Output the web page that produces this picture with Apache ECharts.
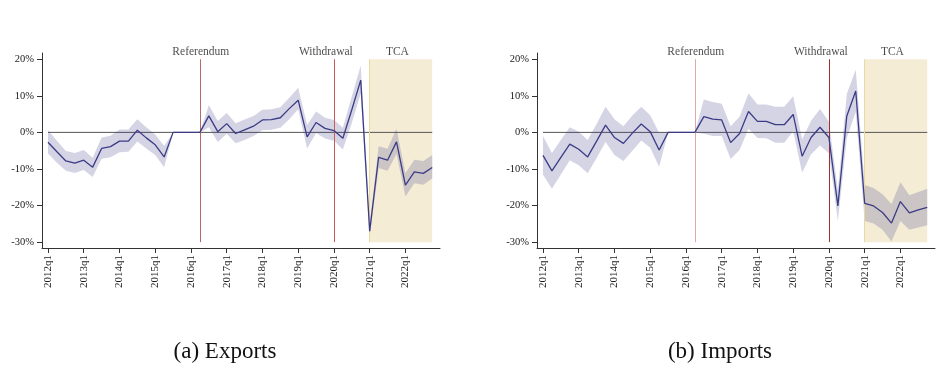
<!DOCTYPE html>
<html>
<head>
<meta charset="utf-8">
<script src="https://cdn.jsdelivr.net/npm/echarts@6/dist/echarts.min.js"></script>
<style>
  html, body { margin: 0; padding: 0; background: #fff; }
  #chart { width: 940px; height: 375px; }
</style>
</head>
<body>
<div id="chart"></div>
<script>
// quarters 2012q1 .. 2022q4 (index 0..43)
const quarters = [
  '2012q1','2012q2','2012q3','2012q4','2013q1','2013q2','2013q3','2013q4',
  '2014q1','2014q2','2014q3','2014q4','2015q1','2015q2','2015q3','2015q4',
  '2016q1','2016q2','2016q3','2016q4','2017q1','2017q2','2017q3','2017q4',
  '2018q1','2018q2','2018q3','2018q4','2019q1','2019q2','2019q3','2019q4',
  '2020q1','2020q2','2020q3','2020q4','2021q1','2021q2','2021q3','2021q4',
  '2022q1','2022q2','2022q3','2022q4'
];
const xTicks = ['2012q1','2013q1','2014q1','2015q1','2016q1','2017q1','2018q1','2019q1','2020q1','2021q1','2022q1'];
const yTicks = [-30, -20, -10, 0, 10, 20];

// exports (percent)
const exportsEst = [-2.7, -5.3, -7.8, -8.4, -7.6, -9.5, -4.4, -3.9, -2.4, -2.4, 0.6, -1.5, -3.4, -6.7, 0, 0,
  0, 0, 4.5, 0.2, 2.4, -0.3, 0.7, 1.7, 3.4, 3.5, 4.0, 6.5, 8.8, -1.2, 2.7, 1.1,
  0.5, -1.6, 6.2, 14.3, -27, -6.8, -7.6, -2.6, -14.4, -10.8, -11.2, -9.6];
const exportsHi = [0.6, -2.3, -5.1, -5.6, -4.8, -6.9, -1.4, -0.9, 0.8, 0.8, 3.6, 1.4, -0.6, -3.7, 0, 0,
  0, 0, 7.5, 3.1, 5.3, 2.5, 3.5, 4.5, 6.2, 6.3, 6.9, 9.5, 12.2, 2.0, 5.7, 4.0,
  3.4, 1.3, 9.8, 18.3, -25.3, -3.8, -4.5, 1.0, -11.2, -7.5, -7.8, -6.2];
const exportsLo = [-5.8, -8.3, -10.5, -11.1, -10.3, -12.2, -7.2, -6.8, -5.4, -5.3, -2.5, -4.4, -6.2, -9.5, 0, 0,
  0, 0, 1.4, -2.6, -0.4, -3.0, -2.1, -1.0, 0.6, 0.7, 1.3, 3.6, 6.3, -4.4, -0.2, -1.7,
  -2.3, -4.7, 2.6, 10.6, -28.5, -9.7, -10.5, -5.9, -17.5, -13.9, -14.3, -12.6];

// imports (percent)
const importsEst = [-6.3, -10.5, -6.8, -3.2, -4.6, -6.7, -2.4, 2.0, -1.4, -3.0, -0.2, 2.3, 0.2, -4.8, 0, 0,
  0, 0, 4.3, 3.6, 3.4, -2.8, -0.3, 5.7, 3.0, 3.0, 2.1, 2.1, 4.9, -6.5, -1.4, 1.4,
  -1.4, -20.1, 4.5, 11.3, -19.4, -20.1, -21.9, -24.8, -18.9, -22.0, -21.2, -20.5];
const importsHi = [-1.0, -5.6, -2.1, 1.4, 0.2, -2.1, 2.3, 7.0, 3.6, 1.7, 4.6, 7.0, 4.7, -0.1, 0, 0,
  0, 0, 9.0, 8.3, 7.8, 1.7, 4.3, 10.7, 7.6, 7.6, 7.0, 7.0, 9.9, -1.9, 3.2, 6.4,
  2.9, -15.8, 10.5, 17.2, -14.4, -15.2, -16.9, -19.6, -13.6, -17.2, -16.3, -15.4];
const importsLo = [-11.6, -15.4, -11.5, -7.6, -9.0, -11.2, -7.0, -2.6, -6.2, -7.8, -5.0, -2.2, -4.2, -9.4, 0, 0,
  0, 0, -0.4, -1.0, -1.0, -7.3, -4.8, 1.0, -1.5, -1.6, -2.8, -2.8, 0.4, -11.0, -6.0, -3.6,
  -5.7, -24.2, -1.5, 5.6, -24.2, -24.9, -26.6, -29.8, -24.2, -26.6, -26.0, -25.4];

const eventNames = ['Referendum', 'Withdrawal', 'TCA'];
const eventQuarters = ['2016q2', '2020q1', '2021q1'];
const eventLabelAt = [17.1, 31.1, 39.1];
const captions = ['(a) Exports', '(b) Imports'];

const FONT = 'Liberation Serif';
const idx = q => quarters.indexOf(q);
const last = quarters.length - 1;

function axes(i) {
  const x = {
    type: 'value', gridIndex: i, min: -0.67, max: 43.87,
    axisLine: { onZero: false, lineStyle: { color: '#333', width: 1 } },
    axisTick: { length: 5, lineStyle: { color: '#333' }, customValues: xTicks.map(idx) },
    axisLabel: {
      customValues: xTicks.map(idx), rotate: 90, margin: 7, overflow: 'none',
      fontFamily: FONT, fontSize: 11, color: '#1a1a1a',
      formatter: v => quarters[Math.round(v)]
    },
    splitLine: { show: false }
  };
  const y = {
    type: 'value', gridIndex: i, min: -31.6, max: 21.7,
    axisLine: { show: true, onZero: false, lineStyle: { color: '#333', width: 1 } },
    axisTick: { show: true, length: 5, lineStyle: { color: '#333' }, customValues: yTicks },
    axisLabel: {
      customValues: yTicks, margin: 8,
      fontFamily: FONT, fontSize: 10.5, color: '#1a1a1a',
      formatter: v => v + '%'
    },
    splitLine: { show: false }
  };
  return [x, y];
}

function panel(i, est, lo, hi, refColor, wdColor) {
  const pts = arr => arr.map((v, k) => [k, v]);
  return [
    {
      // zero reference line, also hosts the TCA shade and event lines
      type: 'line', xAxisIndex: i, yAxisIndex: i, silent: true, z: 1,
      data: [[0, 0], [last, 0]], symbol: 'none',
      lineStyle: { color: '#555', width: 1 },
      markArea: {
        silent: true,
        itemStyle: { color: '#f5ecd6' },
        data: [[{ coord: [idx(eventQuarters[2]), 20] }, { coord: [last, -30] }]]
      },
      markLine: {
        silent: true, symbol: 'none', label: { show: false },
        data: [
          [{ coord: [idx(eventQuarters[0]), 20], lineStyle: { color: refColor, width: 1, type: 'solid' } },
           { coord: [idx(eventQuarters[0]), -30] }],
          [{ coord: [idx(eventQuarters[1]), 20], lineStyle: { color: wdColor, width: 1, type: 'solid' } },
           { coord: [idx(eventQuarters[1]), -30] }],
          [{ coord: [idx(eventQuarters[2]), 20], lineStyle: { color: '#ead9a0', width: 1, type: 'solid' } },
           { coord: [idx(eventQuarters[2]), -30] }]
        ]
      }
    },
    {
      // confidence band as one polygon
      type: 'custom', xAxisIndex: i, yAxisIndex: i, silent: true, z: 3,
      data: lo.map((v, k) => [k, v, hi[k]]),
      renderItem: (params, api) => {
        if (params.dataIndex !== 0) return null;
        const top = hi.map((v, k) => api.coord([k, v]));
        const bot = lo.map((v, k) => api.coord([k, v])).reverse();
        return {
          type: 'polygon',
          shape: { points: top.concat(bot) },
          style: { fill: 'rgba(60,60,135,0.22)' }
        };
      }
    },
    {
      type: 'line', xAxisIndex: i, yAxisIndex: i, silent: true, z: 5,
      data: pts(est), symbol: 'none',
      lineStyle: { color: '#3b3b86', width: 1.3 }
    },
    {
      type: 'scatter', xAxisIndex: i, yAxisIndex: i, silent: true, z: 6,
      symbolSize: 0,
      data: eventNames.map((n, k) => ({ name: n, value: [eventLabelAt[k], 20] })),
      label: {
        show: true, position: 'inside', offset: [0, -7],
        formatter: p => p.name, fontFamily: FONT, fontSize: 11.5, color: '#1a1a1a'
      }
    }
  ];
}

const chart = echarts.init(document.getElementById('chart'));
const a0 = axes(0), a1 = axes(1);
chart.setOption({
  animation: false,
  backgroundColor: '#fff',
  grid: [
    { left: 42, top: 53, width: 398, height: 195 },
    { left: 537, top: 53, width: 398, height: 195 }
  ],
  xAxis: [a0[0], a1[0]],
  yAxis: [a0[1], a1[1]],
  series: [].concat(
    panel(0, exportsEst, exportsLo, exportsHi, '#b86a6a', '#c85a5a'),
    panel(1, importsEst, importsLo, importsHi, '#e2a8a8', '#a03030')
  ),
  graphic: [
    { type: 'text', x: 225, y: 352, style: { text: captions[0], font: '23px "Liberation Serif"', fill: '#111', textAlign: 'center', textVerticalAlign: 'middle' } },
    { type: 'text', x: 720, y: 352, style: { text: captions[1], font: '23px "Liberation Serif"', fill: '#111', textAlign: 'center', textVerticalAlign: 'middle' } }
  ]
});
</script>
</body>
</html>
